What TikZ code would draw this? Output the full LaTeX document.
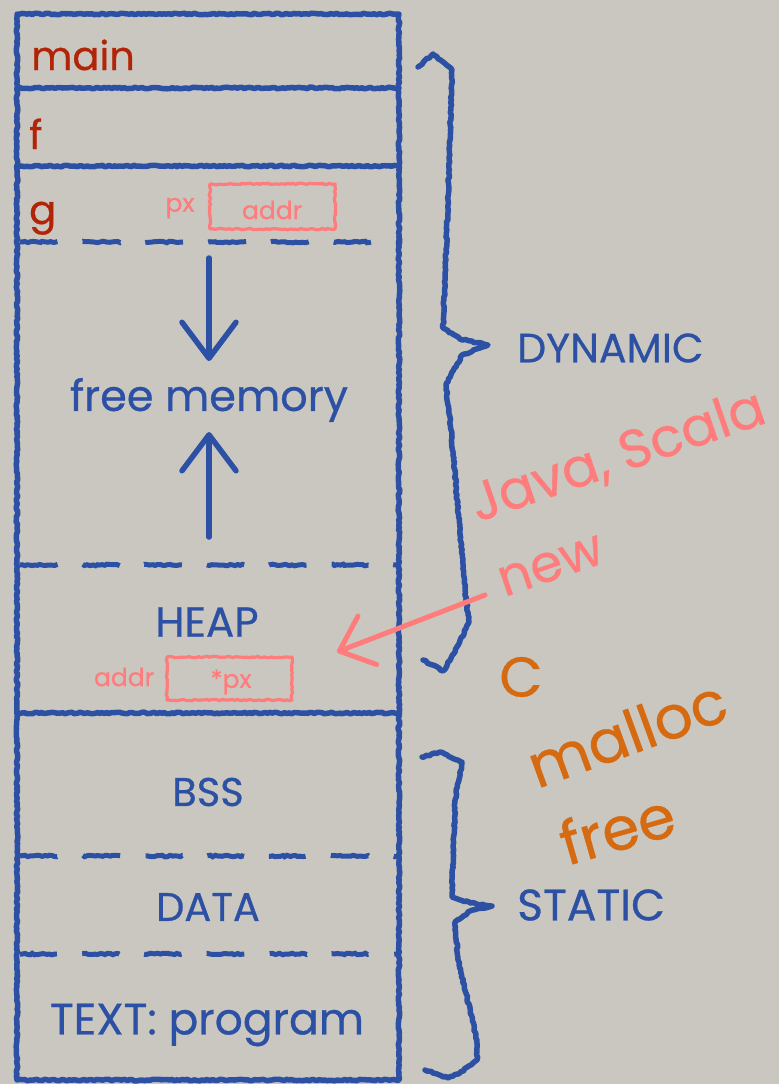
\documentclass[tikz,border=0pt]{standalone}
\usepackage{fontspec}
\setmainfont{Poppins}[FakeBold=0.6,AutoFakeBold=0.6]
\usetikzlibrary{arrows.meta,decorations.pathmorphing}

\definecolor{paper}{RGB}{202,199,192}
\definecolor{ink}{RGB}{44,80,164}
\definecolor{frame}{RGB}{178,36,8}
\definecolor{pointer}{RGB}{255,124,124}
\definecolor{clang}{RGB}{214,106,16}

\newcommand{\fsz}[1]{\fontsize{#1}{#1}\selectfont\bfseries}

\begin{document}
\begin{tikzpicture}[x=1pt,y=-1pt,
  rough/.style={decorate,decoration={random steps,segment length=2.5pt,amplitude=0.8pt}},
  wall/.style={rough,draw=ink,line width=5.5pt,line cap=round,line join=round},
  divider/.style={rough,draw=ink,line width=5pt,dash pattern=on 38.5pt off 26pt},
  bracket/.style={rough,draw=ink,line width=5.5pt,line cap=round,line join=round},
  cell/.style={rough,draw=pointer,line width=3.2pt,line join=round},
  growarrow/.style={draw=ink,line width=5.5pt,line cap=round,
    -{Straight Barb[length=36pt,width=54pt,line width=5.5pt,round]}},
  allocarrow/.style={draw=pointer,line width=5pt,line cap=round,
    -{Straight Barb[length=30pt,width=52pt,line width=5pt,round]}},
  seg/.style={text=ink,font=\fsz{40},inner sep=0pt},
  fn/.style={text=frame,font=\fsz{40},inner sep=0pt},
  ptr/.style={text=pointer,font=\fsz{25},inner sep=0pt},
  side/.style={text=ink,font=\fsz{41},inner sep=0pt},
  jnote/.style={text=pointer,inner sep=0pt,rotate=19},
  cnote/.style={text=clang,inner sep=0pt,rotate=20}]

% paper
\fill[paper] (0,0) rectangle (779,1084);
\useasboundingbox (0,0) rectangle (779,1084);

% memory column
\draw[wall] (17,14) rectangle (399,1080);
\draw[wall] (17,88) -- (399,88);
\draw[wall] (17,166) -- (399,166);
\draw[wall] (17,713) -- (399,713);
\draw[divider] (20,242) -- (398,242);
\draw[divider] (20,565) -- (398,565);
\draw[divider] (20,856) -- (398,856);
\draw[divider] (20,954) -- (398,954);

% stack frames
\node[fn,anchor=base west] (main) at (31,70) {main};
\node[fn,anchor=base west] (f) at (29,149) {f};
\node[fn,anchor=base west] (g) at (29,224) {g};

% pointer px in frame g
\node[ptr] (px) at (180,208) {px};
\draw[cell] (210,184) rectangle (335,229);
\node[ptr] (pxval) at (272,210) {addr};

% free memory between stack and heap
\node[seg,font=\fsz{43}] (freemem) at (209,400) {free memory};
\coordinate (stacktop) at (209,258);
\coordinate (stackend) at (209,361);
\coordinate (heaptop) at (209,537);
\coordinate (heapend) at (209,432);
\draw[growarrow] (stacktop) -- (stackend);
\draw[growarrow] (heaptop) -- (heapend);

% heap
\node[seg,font=\fsz{42}] (heap) at (207,622) {HEAP};
\node[ptr] (haddr) at (124,677) {addr};
\draw[cell] (167,657) rectangle (292,700);
\node[ptr] (hval) at (231,682) {*px};

% static segments
\node[seg] (bss) at (208,792) {BSS};
\node[seg] (data) at (208,907) {DATA};
\node[seg,font=\fsz{44}] (text) at (207,1025) {TEXT: program};

% braces
\draw[bracket] (418,67) -- (433,54) -- (452,70) -- (448,200) -- (443,328)
  -- (460,339) -- (488,345) -- (462,355) -- (446,385) -- (451,430)
  -- (465,590) -- (469,622) -- (455,652) -- (443,671) -- (423,660);
\draw[bracket] (422,757) -- (440,752) -- (462,762) -- (455,800) -- (452,897)
  -- (470,903) -- (492,906) -- (470,911) -- (455,922) -- (458,960)
  -- (477,1040) -- (477,1060) -- (460,1073) -- (448,1078) -- (425,1070);
\node[side,anchor=west] (dyn) at (517,348) {DYNAMIC};
\node[side,anchor=west,font=\fsz{44}] (stat) at (517,905) {STATIC};

% allocation in managed languages
\node[jnote,font=\fsz{54}] (java) at (618,457) {Java, Scala};
\node[jnote,font=\fsz{52}] (new) at (551,566) {new};
\coordinate (newtail) at (485,595);
\coordinate (newtip) at (337,652);
\draw[allocarrow] (newtail) -- (newtip);

% allocation in C
\node[cnote,font=\fsz{56},rotate=-20] (c) at (521,677) {C};
\node[cnote,font=\fsz{60}] (malloc) at (627,733) {malloc};
\node[cnote,font=\fsz{60},rotate=-4] (cfree) at (617,828) {free};
\end{tikzpicture}
\end{document}
